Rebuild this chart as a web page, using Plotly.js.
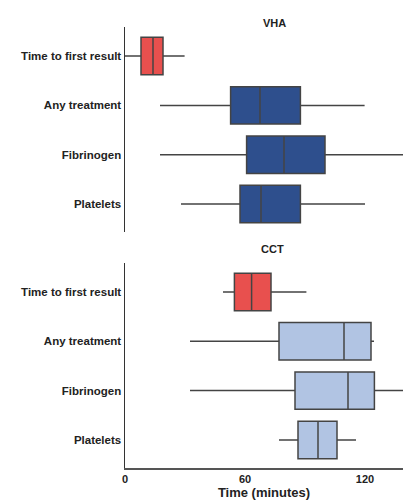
<!DOCTYPE html>
<html>
<head>
<meta charset="utf-8">
<script src="https://cdn.plot.ly/plotly-3.0.1.min.js"></script>
<style>html,body{margin:0;padding:0;background:#fff;}#chart{width:403px;height:501px;}</style>
</head>
<body>
<div id="chart"></div>
<script>
const categories = ["Time to first result", "Any treatment", "Fibrinogen", "Platelets"];
const panels = ["VHA", "CCT"];

// VHA statistics (minutes)
const vhaLow    = [0,    17.5, 17.5, 28];
const vhaQ1     = [8,    52.8, 60.8, 57.5];
const vhaMedian = [14,   67.5, 79.5, 68];
const vhaQ3     = [19,   87.7, 100,  87.7];
const vhaHigh   = [29.8, 119.8, 150, 120];

// CCT statistics (minutes)
const cctLow    = [49,   32.5, 32.5, 77];
const cctQ1     = [54.7, 77,   85,   86.5];
const cctMedian = [63.3, 109.5, 111.5, 96.5];
const cctQ3     = [73,   123,  124.7, 106];
const cctHigh   = [90.7, 124.5, 150, 115.5];

const xTicks = [0, 60, 120];

const red = '#e8504e', dark = '#2e4f8d', light = '#b1c4e3';
const vhaColors = [red, dark, dark, dark];
const cctColors = [red, light, light, light];

const traces = [];
function addPanel(low, q1, med, q3, high, colors, xa, ya) {
  categories.forEach((c, i) => {
    traces.push({
      type: 'box', orientation: 'h',
      y: [c], lowerfence: [low[i]], q1: [q1[i]], median: [med[i]], q3: [q3[i]], upperfence: [high[i]],
      fillcolor: colors[i], line: {color: '#444', width: 1.5},
      whiskerwidth: 0, width: 0.76, boxpoints: false, hoverinfo: 'skip',
      showlegend: false, xaxis: xa, yaxis: ya
    });
  });
}
addPanel(vhaLow, vhaQ1, vhaMedian, vhaQ3, vhaHigh, vhaColors, 'x2', 'y2');
addPanel(cctLow, cctQ1, cctMedian, cctQ3, cctHigh, cctColors, 'x', 'y');

const font = {family: 'Liberation Sans, Arial, sans-serif', size: 11, color: '#222'};
const yCommon = {
  type: 'category', categoryorder: 'array', categoryarray: categories,
  range: [3.57, -0.59], showline: true, linecolor: '#333', linewidth: 1.5,
  ticks: '', showgrid: false, zeroline: false, fixedrange: true,
  tickfont: {family: font.family, size: 11.5, color: '#222', weight: 'bold'}
};
const layout = {
  width: 403, height: 501,
  margin: {l: 125, r: 0, t: 27, b: 33},
  paper_bgcolor: '#fff', plot_bgcolor: '#fff',
  font: font,
  xaxis: {
    domain: [0, 1], anchor: 'y', range: [0, 139], tickvals: xTicks, ticktext: xTicks.map(String),
    showline: true, linecolor: '#555', linewidth: 1.5, ticks: '', showgrid: false, zeroline: false,
    tickfont: {family: font.family, size: 11, color: '#222', weight: 'bold'},
    title: {text: 'Time (minutes)', standoff: 2, font: {family: font.family, size: 13, color: '#222', weight: 'bold'}}
  },
  xaxis2: {domain: [0, 1], anchor: 'y2', matches: 'x', visible: false, range: [0, 139]},
  yaxis: Object.assign({}, yCommon, {domain: [0, 0.465], anchor: 'x'}),
  yaxis2: Object.assign({}, yCommon, {domain: [0.535, 1], anchor: 'x2'}),
  annotations: [
    {text: '<b>' + panels[0] + '</b>', xref: 'paper', yref: 'paper', x: 0.536, y: 1, yshift: 12, showarrow: false, font: {family: font.family, size: 11, color: '#222'}},
    {text: '<b>' + panels[1] + '</b>', xref: 'paper', yref: 'paper', x: 0.532, y: 0.465, yshift: 14, showarrow: false, font: {family: font.family, size: 11, color: '#222'}}
  ]
};
Plotly.newPlot('chart', traces, layout, {staticPlot: true, displayModeBar: false});
</script>
</body>
</html>
